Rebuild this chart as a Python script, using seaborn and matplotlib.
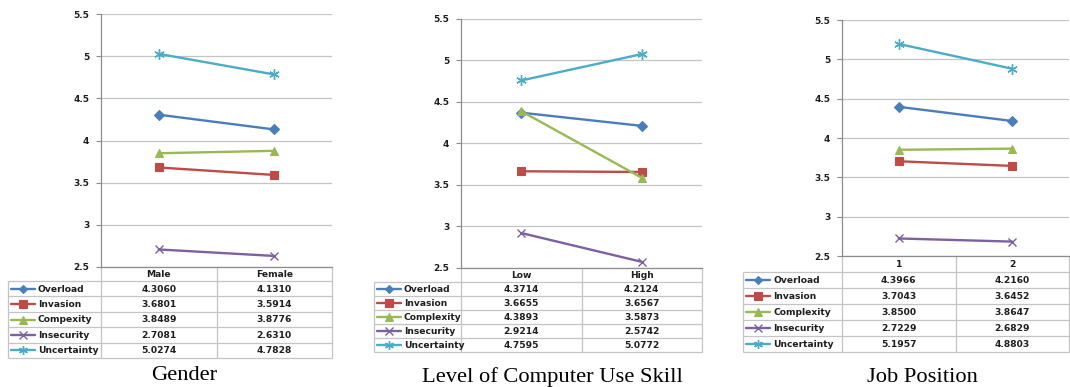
import matplotlib
matplotlib.use("Agg")
import matplotlib.pyplot as plt
from matplotlib.ticker import FuncFormatter
import seaborn as sns

# ---- data ---------------------------------------------------------------
series_names = ["Overload", "Invasion", "Complexity", "Insecurity", "Uncertainty"]
gender_series_names = ["Overload", "Invasion", "Compexity", "Insecurity", "Uncertainty"]

gender_groups = ["Male", "Female"]
gender_means = [
    [4.3060, 4.1310],
    [3.6801, 3.5914],
    [3.8489, 3.8776],
    [2.7081, 2.6310],
    [5.0274, 4.7828],
]

skill_groups = ["Low", "High"]
skill_means = [
    [4.3714, 4.2124],
    [3.6655, 3.6567],
    [4.3893, 3.5873],
    [2.9214, 2.5742],
    [4.7595, 5.0772],
]

position_groups = ["1", "2"]
position_means = [
    [4.3966, 4.2160],
    [3.7043, 3.6452],
    [3.8500, 3.8647],
    [2.7229, 2.6829],
    [5.1957, 4.8803],
]

y_ticks = [2.5, 3.0, 3.5, 4.0, 4.5, 5.0, 5.5]
panel_titles = ["Gender", "Level of Computer Use Skill", "Job Position"]

# ---- styling ------------------------------------------------------------
sns.set_style("white")
plt.rcParams["font.family"] = ["DejaVu Sans"]

colors = ["#4A7EBB", "#BE4B48", "#98B954", "#7D60A0", "#4BACC6"]
markers = ["D", "s", "^", "x", (6, 2, 0)]
marker_sizes = [4.8, 6.2, 6.4, 6.2, 7.5]
marker_edge = [0.8, 0.8, 0.8, 1.0, 1.0]
grid_col = "#C4C4C4"
axis_col = "#8C8C8C"
text_col = "#1E1E1E"

W, H = 1070, 387
fig = plt.figure(figsize=(W / 100, H / 100), dpi=100)
fig.patch.set_facecolor("white")

# pixel canvas for the data tables and captions
cv = fig.add_axes([0, 0, 1, 1])
cv.set_xlim(0, W)
cv.set_ylim(H, 0)
cv.axis("off")

# legend-left, plot-left, plot-right, plot-top, plot-bottom,
# header height, table bottom, caption x, caption y
layouts = [
    (8, 101, 332, 14, 267, 14, 358, 184, 376),
    (374, 461, 702, 19, 268, 14, 352, 552, 377),
    (743, 842, 1069, 20, 256, 16, 352, 922, 377),
]

panels = [
    (gender_groups, gender_series_names, gender_means),
    (skill_groups, series_names, skill_means),
    (position_groups, series_names, position_means),
]


def draw_panel(layout, groups, names, means, title):
    lx, pl, pr, pt, pb, hh, tb, tx, ty = layout

    ax = fig.add_axes([pl / W, 1 - pb / H, (pr - pl) / W, (pb - pt) / H])
    ax.set_facecolor("none")
    for i, vals in enumerate(means):
        sns.lineplot(
            x=groups, y=vals, ax=ax, sort=False, color=colors[i],
            linewidth=1.7, marker=markers[i], markersize=marker_sizes[i],
            markeredgewidth=marker_edge[i], markeredgecolor=colors[i],
        )
    ax.set_xlim(-0.5, 1.5)
    ax.set_ylim(y_ticks[0], y_ticks[-1])
    ax.set_yticks(y_ticks)
    ax.yaxis.set_major_formatter(FuncFormatter(lambda v, _: f"{v:g}"))
    ax.set_xticks([])
    ax.set_xlabel("")
    ax.set_ylabel("")
    ax.yaxis.grid(True, color=grid_col, linewidth=0.9)
    ax.xaxis.grid(False)
    ax.set_axisbelow(True)
    for side in ("top", "right"):
        ax.spines[side].set_visible(False)
    for side in ("left", "bottom"):
        ax.spines[side].set_color(axis_col)
        ax.spines[side].set_linewidth(0.9)
    ax.tick_params(axis="y", which="major", left=True, length=3.5, width=0.8,
                   color=axis_col, pad=5, labelsize=6.5, labelcolor=text_col)
    for lab in ax.get_yticklabels():
        lab.set_fontweight("bold")

    # data table under the plot
    mid = (pl + pr) / 2
    row_h = (tb - pb - hh) / len(names)
    kw = dict(color=grid_col, lw=0.9, solid_capstyle="butt")
    for x in (pl, mid, pr):
        cv.plot([x, x], [pb, tb], **kw)
    cv.plot([lx, lx], [pb + hh, tb], **kw)
    for k in range(len(names) + 1):
        y = pb + hh + k * row_h
        cv.plot([lx, pr], [y, y], **kw)

    col_centers = [(pl + mid) / 2, (mid + pr) / 2]
    for g, cx in zip(groups, col_centers):
        cv.text(cx, pb + hh / 2 + 0.5, g, ha="center", va="center",
                fontsize=6.6, fontweight="bold", color=text_col)

    for i, (name, vals) in enumerate(zip(names, means)):
        cy = pb + hh + (i + 0.5) * row_h
        cv.plot([lx + 3, lx + 27], [cy, cy], color=colors[i], lw=1.7)
        cv.plot([lx + 15], [cy], linestyle="none", marker=markers[i],
                markersize=marker_sizes[i] * 0.85, color=colors[i],
                markeredgewidth=marker_edge[i])
        cv.text(lx + 30, cy + 0.5, name, ha="left", va="center",
                fontsize=6.6, fontweight="bold", color=text_col)
        for v, cx in zip(vals, col_centers):
            cv.text(cx, cy + 0.5, f"{v:.4f}", ha="center", va="center",
                    fontsize=6.6, fontweight="bold", color=text_col)

    cv.text(tx, ty, title, ha="center", va="center", fontsize=16.2,
            family="Liberation Serif", color="black")


for layout, (groups, names, means), title in zip(layouts, panels, panel_titles):
    draw_panel(layout, groups, names, means, title)

fig.savefig("out.png", dpi=100, facecolor="white")
